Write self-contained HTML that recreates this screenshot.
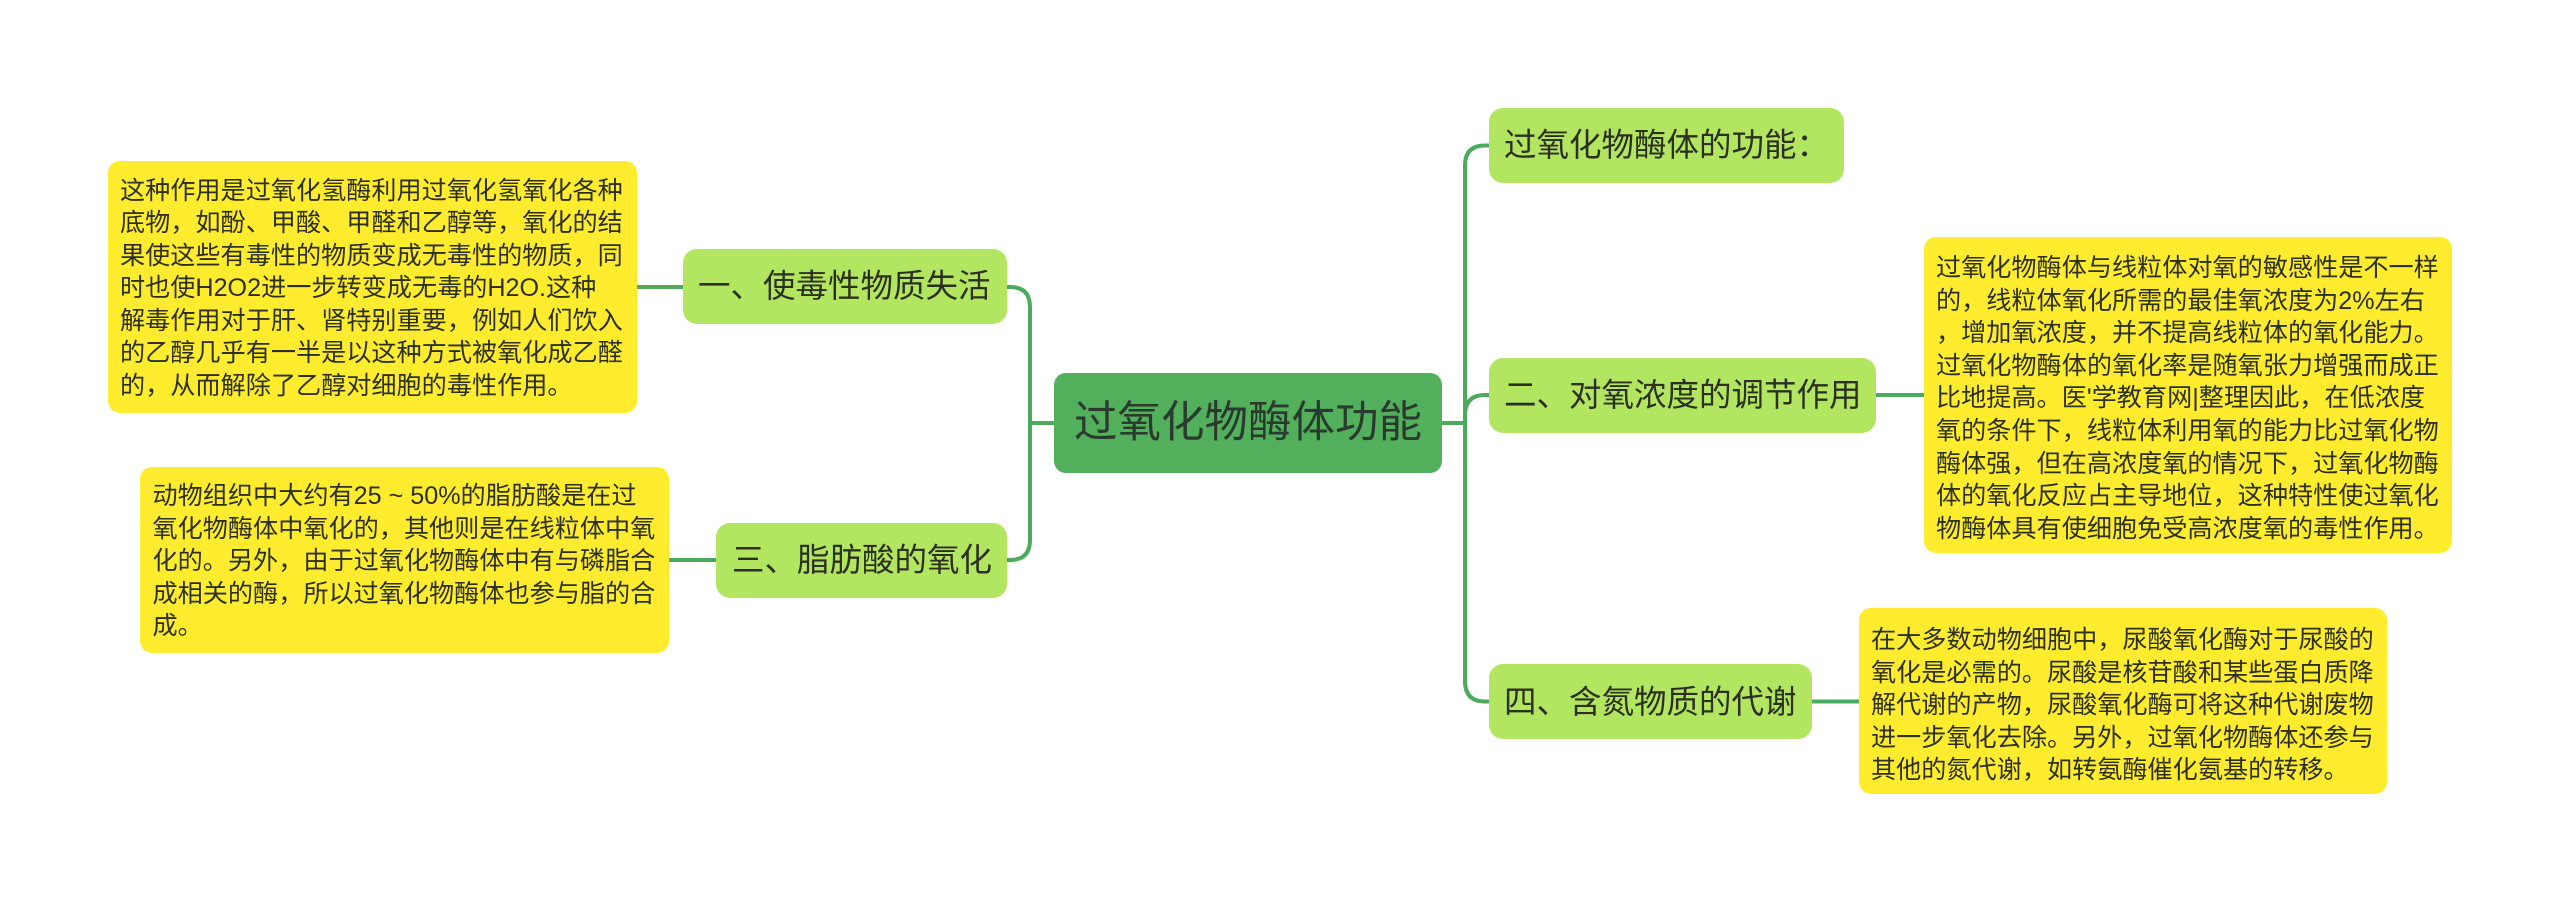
<!DOCTYPE html>
<html lang="zh">
<head>
<meta charset="utf-8">
<title>过氧化物酶体功能</title>
<style>
html,body{margin:0;padding:0;background:#fff;}
body{position:relative;width:2560px;height:903px;overflow:hidden;font-family:"Liberation Sans","Noto Sans CJK SC",sans-serif;color:#2b3020;}
svg{position:absolute;left:0;top:0;}
.n{position:absolute;box-sizing:border-box;white-space:nowrap;}
.y{background:#ffec2e;border-radius:12px;font-size:25.15px;line-height:32.6px;}
.g{background:#b3e660;border-radius:14px;font-size:32.5px;text-align:left;}
.r{background:#52b05c;border-radius:12px;font-size:43.5px;color:#2a3a2e;}
</style>
</head>
<body>
<svg width="2560" height="903" viewBox="0 0 2560 903" fill="none" stroke="#4caa5c" stroke-width="4">
<path d="M636 287H683"/>
<path d="M668 560H716"/>
<path d="M1007 287H1010Q1030 287 1030 307V540Q1030 560 1010 560H1007"/>
<path d="M1030 423H1054"/>
<path d="M1442 423H1465"/>
<path d="M1489 145.500H1485Q1465 145.500 1465 165.500V681Q1465 701.500 1485 701.500H1489"/>
<path d="M1465 415Q1465 395 1485 395H1489"/>
<path d="M1876 395H1924"/>
<path d="M1812 701.500H1859"/>
</svg>

<div class="n y" style="left:108px;top:160.500px;width:529px;height:252px;padding:14px 0 0 12px;">这种作用是过氧化氢酶利用过氧化氢氧化各种<br>底物，如酚、甲酸、甲醛和乙醇等，氧化的结<br>果使这些有毒性的物质变成无毒性的物质，同<br>时也使H2O2进一步转变成无毒的H2O.这种<br>解毒作用对于肝、肾特别重要，例如人们饮入<br>的乙醇几乎有一半是以这种方式被氧化成乙醛<br>的，从而解除了乙醇对细胞的毒性作用。</div>

<div class="n y" style="left:140px;top:467px;width:529px;height:186px;padding:13px 0 0 12.500px;">动物组织中大约有25 ~ 50%的脂肪酸是在过<br>氧化物酶体中氧化的，其他则是在线粒体中氧<br>化的。另外，由于过氧化物酶体中有与磷脂合<br>成相关的酶，所以过氧化物酶体也参与脂的合<br>成。</div>

<div class="n y" style="left:1924px;top:237px;width:528px;height:316px;padding:15px 0 0 12px;">过氧化物酶体与线粒体对氧的敏感性是不一样<br>的，线粒体氧化所需的最佳氧浓度为2%左右<br>，增加氧浓度，并不提高线粒体的氧化能力。<br>过氧化物酶体的氧化率是随氧张力增强而成正<br>比地提高。医'学教育网|整理因此，在低浓度<br>氧的条件下，线粒体利用氧的能力比过氧化物<br>酶体强，但在高浓度氧的情况下，过氧化物酶<br>体的氧化反应占主导地位，这种特性使过氧化<br>物酶体具有使细胞免受高浓度氧的毒性作用。</div>

<div class="n y" style="left:1859px;top:608px;width:528px;height:186px;padding:16px 0 0 12px;">在大多数动物细胞中，尿酸氧化酶对于尿酸的<br>氧化是必需的。尿酸是核苷酸和某些蛋白质降<br>解代谢的产物，尿酸氧化酶可将这种代谢废物<br>进一步氧化去除。另外，过氧化物酶体还参与<br>其他的氮代谢，如转氨酶催化氨基的转移。</div>

<div class="n g" style="left:683px;top:249px;width:324px;height:75px;line-height:75px;padding-left:15px;">一、使毒性物质失活</div>
<div class="n g" style="left:716px;top:523px;width:291px;height:75px;line-height:75px;padding-left:16px;">三、脂肪酸的氧化</div>
<div class="n g" style="left:1489px;top:108px;width:355px;height:75px;line-height:75px;padding-left:15px;">过氧化物酶体的功能：</div>
<div class="n g" style="left:1489px;top:358px;width:387px;height:75px;line-height:75px;padding-left:15px;">二、对氧浓度的调节作用</div>
<div class="n g" style="left:1489px;top:664px;width:323px;height:75px;line-height:77px;padding-left:15px;">四、含氮物质的代谢</div>

<div class="n r" style="left:1054px;top:373px;width:388px;height:100px;line-height:100px;padding-left:20px;">过氧化物酶体功能</div>
</body>
</html>
